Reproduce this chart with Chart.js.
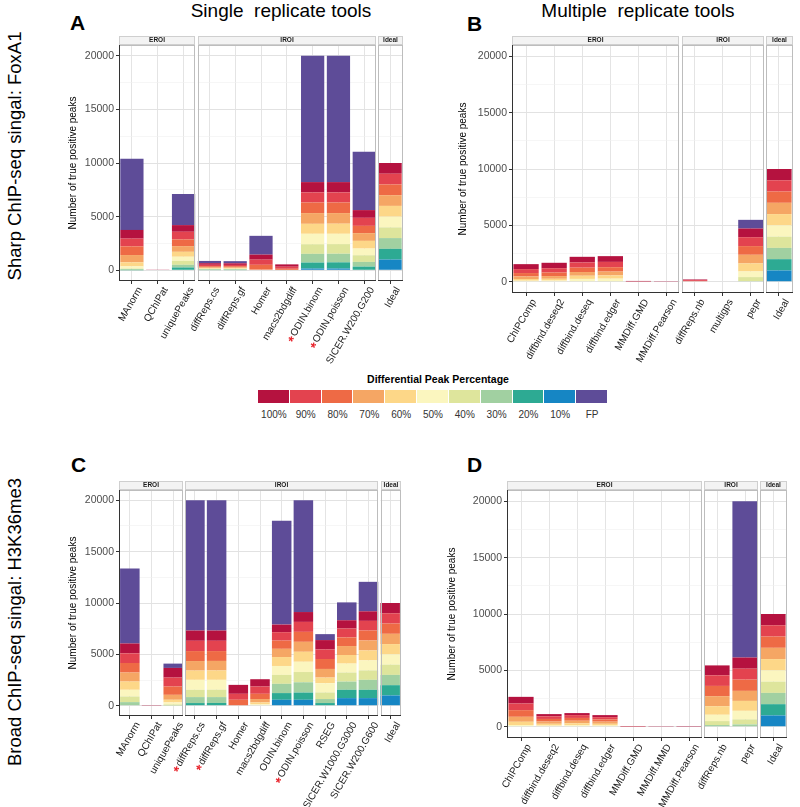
<!DOCTYPE html>
<html lang="en">
<head>
<meta charset="UTF-8">
<title>True positive peaks per tool</title>
<script src="https://cdn.jsdelivr.net/npm/chart.js"></script>
<style>
  body { margin: 0; background: #fff; font-family: "Liberation Sans", Arial, sans-serif; }
  #page { position: relative; width: 800px; height: 807px; overflow: hidden; }
  #page canvas { position: absolute; }
  .txt { position: absolute; white-space: nowrap; color: #000; }
  .letter { font-weight: bold; font-size: 21px; }
  .coltitle { font-size: 19px; transform: translateX(-50%); }
  .rowtitle { font-size: 18.5px; transform: translate(-50%, -50%) rotate(-90deg); }
  #legend { position: absolute; left: 258px; top: 373px; width: 350px; }
  #legend .title { text-align: center; font-weight: bold; font-size: 10.5px; margin-bottom: 5px; padding-left: 10px; }
  #legend .row { display: flex; }
  #legend .cell { flex: 1; text-align: center; font-size: 10px; color: #333; }
  #legend .sw { height: 13px; margin-right: 1px; margin-bottom: 6px; }
</style>
</head>
<body>
<div id="page">
  <div class="txt letter" style="left:70px;top:11px">A</div>
  <div class="txt letter" style="left:467px;top:12px">B</div>
  <div class="txt letter" style="left:71px;top:453px">C</div>
  <div class="txt letter" style="left:467px;top:453px">D</div>
  <div class="txt coltitle" style="left:281px;top:0px">Single&nbsp; replicate tools</div>
  <div class="txt coltitle" style="left:638px;top:0px">Multiple&nbsp; replicate tools</div>
  <div class="txt rowtitle" style="left:15px;top:156px">Sharp ChIP-seq singal: FoxA1</div>
  <div class="txt rowtitle" style="left:15px;top:622px">Broad ChIP-seq singal: H3K36me3</div>
  <div id="legend"></div>
</div>

<script>
  // stacking order, bottom to top
  const percentLabels = ['10%', '20%', '30%', '40%', '50%', '60%', '70%', '80%', '90%', '100%', 'FP'];
  const percentColors = ['#1686C4', '#2DAA93', '#A1D0A1', '#DEE59C', '#FBF6BF', '#FDD788',
                         '#F5A664', '#EE6A45', '#E3434F', '#B5123F', '#5E4C98'];
  const legendOrder = ['100%', '90%', '80%', '70%', '60%', '50%', '40%', '30%', '20%', '10%', 'FP'];
  const facetNames = ['EROI', 'IROI', 'Ideal'];
  const yTickValues = [0, 2500, 5000, 7500, 10000, 12500, 15000, 17500, 20000];

  // Panel A - FoxA1, single replicate tools
  const toolsA = ['MAnorm', 'QChIPat', 'uniquePeaks', 'diffReps.cs', 'diffReps.gf', 'Homer',
                  'macs2bdgdiff', 'ODIN.binom', 'ODIN.poisson', 'SICER.W200.G200', 'Ideal'];
  const facetSizesA = [3, 7, 1];
  const starredA = ['ODIN.binom', 'ODIN.poisson'];
  // each row: 10%, 20%, ... 100%, FP
  const peaksA = [
    [0, 10, 50, 100, 200, 380, 680, 810, 720, 810, 6640],
    [0, 0, 0, 0, 0, 0, 0, 0, 0, 30, 0],
    [0, 260, 250, 370, 380, 460, 530, 630, 710, 620, 2900],
    [0, 20, 30, 40, 50, 60, 80, 100, 130, 150, 210],
    [0, 20, 30, 40, 50, 60, 80, 100, 120, 150, 200],
    [0, 0, 0, 0, 0, 0, 60, 450, 480, 470, 1750],
    [0, 0, 0, 0, 0, 0, 40, 100, 190, 220, 0],
    [160, 560, 810, 900, 970, 930, 1000, 990, 940, 960, 11780],
    [160, 580, 800, 900, 960, 940, 990, 990, 940, 960, 11780],
    [0, 340, 440, 620, 620, 720, 720, 680, 750, 720, 5450],
    [1000, 1000, 1000, 1000, 1000, 1000, 1000, 1000, 1000, 1000, 0]
  ];

  // Panel B - FoxA1, multiple replicate tools
  const toolsB = ['ChIPComp', 'diffbind.deseq2', 'diffbind.deseq', 'diffbind.edger', 'MMDiff.GMD',
                  'MMDiff.Pearson', 'diffReps.nb', 'multigps', 'pepr', 'Ideal'];
  const facetSizesB = [6, 3, 1];
  const starredB = [];
  const peaksB = [
    [0, 0, 0, 0, 90, 150, 230, 300, 350, 440, 0],
    [0, 0, 0, 0, 100, 160, 240, 320, 380, 480, 0],
    [0, 0, 0, 50, 200, 280, 330, 390, 460, 500, 0],
    [0, 0, 0, 60, 210, 290, 340, 390, 470, 510, 0],
    [0, 0, 0, 0, 0, 0, 0, 0, 30, 40, 0],
    [0, 0, 0, 0, 0, 0, 0, 0, 0, 20, 0],
    [0, 0, 0, 0, 0, 0, 0, 60, 80, 60, 0],
    [0, 0, 0, 0, 0, 0, 0, 0, 0, 0, 0],
    [0, 0, 60, 350, 500, 710, 770, 770, 790, 770, 770],
    [1000, 1000, 1000, 1000, 1000, 1000, 1000, 1000, 1000, 1000, 0]
  ];

  // Panel C - H3K36me3, single replicate tools
  const toolsC = ['MAnorm', 'QChIPat', 'uniquePeaks', 'diffReps.cs', 'diffReps.gf', 'Homer',
                  'macs2bdgdiff', 'ODIN.binom', 'ODIN.poisson', 'RSEG', 'SICER.W1000.G3000',
                  'SICER.W200.G600', 'Ideal'];
  const facetSizesC = [3, 9, 1];
  const starredC = ['diffReps.cs', 'diffReps.gf', 'ODIN.poisson'];
  const peaksC = [
    [0, 50, 300, 550, 650, 800, 880, 930, 940, 960, 7290],
    [0, 0, 0, 0, 0, 0, 0, 0, 0, 20, 0],
    [0, 0, 30, 100, 190, 260, 480, 810, 870, 940, 420],
    [0, 260, 580, 710, 970, 900, 930, 970, 1000, 1000, 12680],
    [0, 270, 570, 720, 960, 910, 930, 960, 1000, 1000, 12680],
    [0, 0, 0, 0, 0, 0, 0, 580, 580, 870, 0],
    [0, 0, 0, 0, 130, 190, 330, 510, 710, 710, 0],
    [580, 650, 900, 870, 870, 870, 800, 800, 820, 740, 10100],
    [580, 700, 1000, 1000, 1000, 970, 970, 970, 970, 960, 10880],
    [0, 260, 390, 640, 900, 550, 840, 970, 930, 910, 580],
    [740, 810, 800, 880, 870, 840, 870, 840, 870, 800, 1740],
    [740, 810, 970, 920, 970, 970, 970, 970, 940, 930, 2870],
    [1000, 1000, 1000, 1000, 1000, 1000, 1000, 1000, 1000, 1000, 0]
  ];

  // Panel D - H3K36me3, multiple replicate tools
  const toolsD = ['ChIPComp', 'diffbind.deseq2', 'diffbind.deseq', 'diffbind.edger', 'MMDiff.GMD',
                  'MMDiff.MMD', 'MMDiff.Pearson', 'diffReps.nb', 'pepr', 'Ideal'];
  const facetSizesD = [7, 2, 1];
  const starredD = [];
  const peaksD = [
    [0, 0, 0, 0, 150, 290, 440, 590, 590, 590, 0],
    [0, 0, 0, 0, 100, 160, 200, 230, 230, 200, 0],
    [0, 0, 0, 0, 120, 180, 230, 250, 250, 180, 0],
    [0, 0, 0, 0, 110, 150, 190, 200, 200, 180, 0],
    [0, 0, 0, 0, 0, 0, 0, 0, 20, 30, 0],
    [0, 0, 0, 0, 0, 0, 0, 0, 0, 20, 0],
    [0, 0, 0, 0, 0, 0, 0, 0, 0, 10, 0],
    [0, 0, 150, 350, 560, 760, 890, 910, 940, 880, 0],
    [0, 0, 200, 450, 760, 880, 890, 1000, 970, 990, 13860],
    [1000, 1000, 1000, 1000, 1000, 1000, 1000, 1000, 1000, 1000, 0]
  ];

  const FONT = '"Liberation Sans", Arial, sans-serif';
  const STRIP_H = 9;

  // pixel box of every facet, from the category scale
  function facetBoxes(chart, sizes) {
    const x = chart.scales.x, a = chart.chartArea, n = chart.data.labels.length;
    const mid = i => (x.getPixelForValue(i - 1) + x.getPixelForValue(i)) / 2;
    const out = [];
    let s = 0;
    sizes.forEach((k, i) => {
      out.push({
        left: s === 0 ? a.left : mid(s) + 1.3,
        right: s + k >= n ? a.right : mid(s + k) - 1.3,
        name: facetNames[i]
      });
      s += k;
    });
    return out;
  }

  const facetPlugin = {
    id: 'facets',
    beforeDatasetsDraw(chart, args, o) {
      const {ctx, chartArea: a} = chart;
      const boxes = facetBoxes(chart, o.sizes);
      ctx.save();
      ctx.fillStyle = '#fff';
      for (let i = 1; i < boxes.length; i++) {
        ctx.fillRect(boxes[i - 1].right, a.top - 1, boxes[i].left - boxes[i - 1].right, a.bottom - a.top + 8);
      }
      ctx.restore();
    },
    afterDatasetsDraw(chart, args, o) {
      const {ctx, chartArea: a, scales: {x}} = chart;
      const boxes = facetBoxes(chart, o.sizes);
      ctx.save();
      ctx.lineWidth = 1;
      boxes.forEach(b => {
        const l = Math.round(b.left) + 0.5, r = Math.round(b.right) - 0.5;
        // panel border
        ctx.strokeStyle = '#bdbdbd';
        ctx.strokeRect(l, Math.round(a.top) + 0.5, r - l, Math.round(a.bottom) - Math.round(a.top) - 1);
        // strip
        const st = Math.round(a.top) - STRIP_H;
        ctx.fillStyle = '#f3f3f3';
        ctx.fillRect(l, st + 0.5, r - l, STRIP_H - 1);
        ctx.strokeStyle = '#cfcfcf';
        ctx.strokeRect(l, st + 0.5, r - l, STRIP_H - 1);
        ctx.fillStyle = '#1a1a1a';
        ctx.font = 'bold 6.5px ' + FONT;
        ctx.textAlign = 'center';
        ctx.textBaseline = 'middle';
        ctx.fillText(b.name, (l + r) / 2, st + STRIP_H / 2);
        // bottom axis line
        ctx.strokeStyle = '#333';
        ctx.beginPath();
        ctx.moveTo(l - 0.5, Math.round(a.bottom) - 0.5);
        ctx.lineTo(r + 0.5, Math.round(a.bottom) - 0.5);
        ctx.stroke();
      });
      // left axis line
      ctx.strokeStyle = '#333';
      ctx.beginPath();
      ctx.moveTo(Math.round(a.left) + 0.5, a.top);
      ctx.lineTo(Math.round(a.left) + 0.5, a.bottom);
      ctx.stroke();

      // rotated category labels, with a red star for the marked tools
      chart.data.labels.forEach((lab, i) => {
        const px = x.getPixelForValue(i);
        ctx.save();
        ctx.translate(px + 8, a.bottom + 7);
        ctx.rotate(-Math.PI / 3);
        ctx.font = '10px ' + FONT;
        ctx.fillStyle = '#1a1a1a';
        ctx.textAlign = 'right';
        ctx.textBaseline = 'middle';
        ctx.fillText(lab, 0, 0);
        if (o.starred.includes(lab)) {
          const w = ctx.measureText(lab).width;
          ctx.fillStyle = '#e8262e';
          ctx.font = 'bold 14px ' + FONT;
          ctx.fillText('*', -w - 1, 3);
        }
        ctx.restore();
      });
      ctx.restore();
    }
  };

  function drawPanel(tools, peaks, facetSizes, starred, box) {
    const yAxisW = box.yw, topPad = 12, bottomH = 110, rightPad = 10;
    const canvas = document.createElement('canvas');
    canvas.width = (box.right - box.left) + yAxisW + rightPad;
    canvas.height = (box.bottom - box.top) + topPad + bottomH;
    canvas.style.left = (box.left - yAxisW) + 'px';
    canvas.style.top = (box.top - topPad) + 'px';
    document.getElementById('page').appendChild(canvas);

    const datasets = percentLabels.map((lab, k) => ({
      label: lab,
      data: peaks.map(row => row[k]),
      backgroundColor: percentColors[k],
      borderWidth: 0,
      barPercentage: 0.9,
      categoryPercentage: 1.0
    }));

    return new Chart(canvas, {
      type: 'bar',
      data: { labels: tools, datasets },
      plugins: [facetPlugin],
      options: {
        responsive: false,
        animation: false,
        layout: { padding: { left: 0, top: topPad, right: rightPad, bottom: 0 } },
        plugins: {
          legend: { display: false },
          tooltip: { enabled: false },
          facets: { sizes: facetSizes, starred }
        },
        scales: {
          x: {
            stacked: true,
            offset: true,
            border: { display: false },
            grid: { offset: false, color: '#e4e4e4', lineWidth: 1, drawTicks: true, tickLength: 3, tickColor: '#333' },
            ticks: { display: false },
            afterFit: s => { s.height = bottomH; }
          },
          y: {
            stacked: true,
            min: -1000,
            max: 21000,
            border: { display: false },
            afterBuildTicks: s => { s.ticks = yTickValues.map(v => ({ value: v })); },
            afterFit: s => { s.width = yAxisW; },
            grid: {
              color: c => (c.tick && c.tick.value % 5000 === 0) ? '#e2e2e2' : '#f0f0f0',
              lineWidth: c => (c.tick && c.tick.value % 5000 === 0) ? 1 : 0.6,
              drawTicks: true,
              tickLength: 3,
              tickColor: c => (c.tick && c.tick.value % 5000 === 0) ? '#333' : 'rgba(0,0,0,0)'
            },
            ticks: {
              padding: 2,
              color: '#4d4d4d',
              font: { family: FONT, size: 10.5 },
              callback: v => (v % 5000 === 0 ? String(v) : '')
            },
            title: {
              display: true,
              text: 'Number of true positive peaks',
              color: '#000',
              padding: 0,
              font: { family: FONT, size: 10 }
            }
          }
        }
      }
    });
  }

  drawPanel(toolsA, peaksA, facetSizesA, starredA, { left: 119, top: 45, right: 403, bottom: 281, yw: 52 });
  drawPanel(toolsB, peaksB, facetSizesB, starredB, { left: 512, top: 45, right: 793, bottom: 293, yw: 55 });
  drawPanel(toolsC, peaksC, facetSizesC, starredC, { left: 119, top: 490, right: 401, bottom: 716, yw: 52 });
  drawPanel(toolsD, peaksD, facetSizesD, starredD, { left: 507, top: 490, right: 787, bottom: 738, yw: 61 });

  // legend strip
  const legend = document.getElementById('legend');
  legend.innerHTML = '<div class="title">Differential Peak Percentage</div>';
  const swRow = document.createElement('div'), labRow = document.createElement('div');
  swRow.className = 'row';
  labRow.className = 'row';
  legendOrder.forEach(lab => {
    const sw = document.createElement('div');
    sw.className = 'cell sw';
    sw.style.background = percentColors[percentLabels.indexOf(lab)];
    swRow.appendChild(sw);
    const t = document.createElement('div');
    t.className = 'cell';
    t.textContent = lab;
    labRow.appendChild(t);
  });
  legend.appendChild(swRow);
  legend.appendChild(labRow);
</script>
</body>
</html>
